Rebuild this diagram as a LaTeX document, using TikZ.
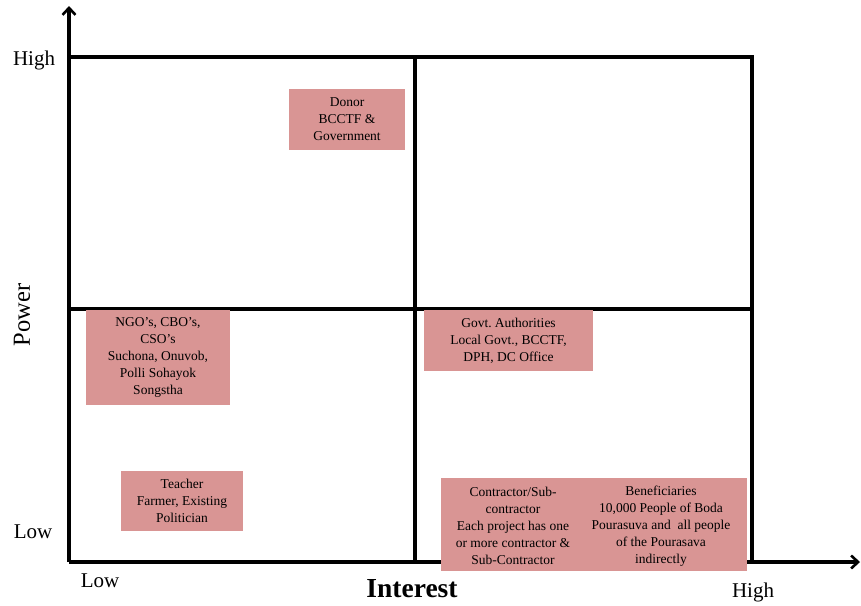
\documentclass[tikz,border=0pt]{standalone}
\usepackage{fontspec}
\setmainfont{Liberation Serif}
\usetikzlibrary{arrows.meta}
\definecolor{boxpink}{HTML}{D99594}
\frenchspacing
\begin{document}
\begin{tikzpicture}[x=1pt,y=-1pt,
  gridline/.style={line width=3.1pt, line cap=rect},
  axisline/.style={line width=3.2pt, -{Straight Barb[length=7pt,width=13pt,line width=2.6pt]}},
  stake/.style={fill=boxpink, draw=none, inner sep=0pt, align=center,
    font=\fontsize{13.5}{17}\selectfont},
  label/.style={font=\fontsize{21}{23}\selectfont},
  coltext/.style={align=center, inner sep=0pt, font=\fontsize{13.5}{17}\selectfont}]
\useasboundingbox (0,0) rectangle (861,605);

% quadrant grid
\coordinate (O) at (69,562);
\coordinate (TL) at (69,57);
\coordinate (TR) at (752,57);
\coordinate (BR) at (752,562);
\coordinate (TM) at (415,57);
\coordinate (BM) at (415,562);
\coordinate (ML) at (69,309);
\coordinate (MR) at (752,309);
\draw[gridline] (TL) -- (TR) -- (BR);
\draw[gridline] (TM) -- (BM);
\draw[gridline] (ML) -- (MR);

% axes
\coordinate (Ytip) at (69,6);
\coordinate (Xtip) at (860,562);
\draw[axisline] (O) -- (Ytip);
\draw[axisline] (O) -- (Xtip);

% stakeholder boxes
\node[stake, minimum width=116pt, minimum height=61pt] (donor) at (347,119.5)
  {Donor\\BCCTF \&\\Government};
\node[stake, minimum width=144pt, minimum height=95pt] (ngo) at (158,357.5)
  {NGO's, CBO's,\\CSO's\\Suchona, Onuvob,\\Polli Sohayok\\Songstha};
\node[stake, minimum width=169pt, minimum height=61pt] (govt) at (508.5,340.5)
  {Govt. Authorities\\Local Govt., BCCTF,\\DPH, DC Office};
\node[stake, minimum width=122pt, minimum height=60pt] (teacher) at (182,501)
  {Teacher\\Farmer, Existing\\Politician};
\node[stake, minimum width=306pt, minimum height=93pt] (contract) at (594,524.5) {};
\node[coltext] (contractL) at (513,526)
  {Contractor/Sub-\\contractor\\Each project has one\\or more contractor \&\\Sub-Contractor};
\node[coltext] (contractR) at (661,526)
  {Beneficiaries\\10,000 People of Boda\\Pourasuva and\ \ all people\\of the Pourasava\\indirectly};

% axis labels
\node[label] (yhigh) at (34,60) {High};
\node[label] (ylow) at (33,532) {Low};
\node[label] (xlow) at (100,581) {Low};
\node[label] (xhigh) at (753,592) {High};
\node[font=\fontsize{27.5}{30}\selectfont\bfseries] (interest) at (412,589) {Interest};
\node[font=\fontsize{24.5}{27}\selectfont, rotate=90] (power) at (22,315) {Power};
\end{tikzpicture}
\end{document}
